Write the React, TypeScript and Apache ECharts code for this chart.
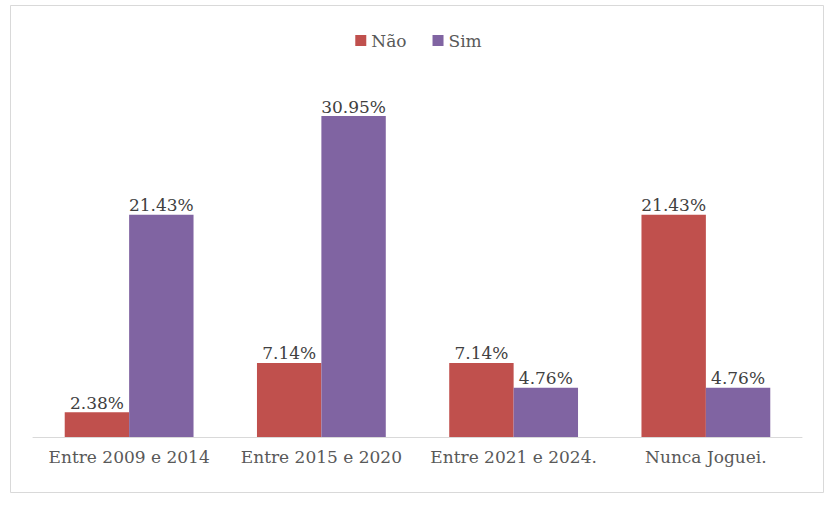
import React, { useEffect, useRef } from "react";
import * as echarts from "echarts";

const categories = ["Entre 2009 e 2014", "Entre 2015 e 2020", "Entre 2021 e 2024.", "Nunca Joguei."];
const naoValues = [2.38, 7.14, 7.14, 21.43];
const simValues = [21.43, 30.95, 4.76, 4.76];
const seriesNames = ["Não", "Sim"];

const FONT = "DejaVu Serif";

export default function App() {
  const ref = useRef<HTMLDivElement>(null);
  useEffect(() => {
    if (!ref.current) return;
    const chart = echarts.init(ref.current, null, { renderer: "svg" });
    const label = {
      show: true,
      position: "top",
      distance: 1,
      color: "#404040",
      fontFamily: FONT,
      fontSize: 17,
      formatter: (p: any) => p.value.toFixed(2) + "%",
    };
    chart.setOption({
      animation: false,
      backgroundColor: "#ffffff",
      textStyle: { fontFamily: FONT },
      graphic: [
        {
          type: "rect",
          shape: { x: 10.5, y: 5.5, width: 813, height: 487 },
          style: { fill: "none", stroke: "#d9d9d9", lineWidth: 1 },
          silent: true,
        },
      ],
      legend: {
        top: 27,
        left: "center",
        itemWidth: 11,
        itemHeight: 11,
        itemGap: 26,
        icon: "rect",
        textStyle: { fontFamily: FONT, fontSize: 17, color: "#595959" },
        data: seriesNames,
      },
      grid: { left: 33, right: 35, top: 437 - 35 * 10.37, bottom: 510 - 437, containLabel: false },
      xAxis: {
        type: "category",
        data: categories,
        axisLine: { lineStyle: { color: "#d9d9d9", width: 1 } },
        axisTick: { show: false },
        axisLabel: { color: "#595959", fontFamily: FONT, fontSize: 17, margin: 11, interval: 0 },
      },
      yAxis: {
        type: "value",
        min: 0,
        max: 35,
        show: false,
        splitLine: { show: false },
      },
      series: [
        {
          name: seriesNames[0],
          type: "bar",
          data: naoValues,
          barGap: "0%",
          barCategoryGap: "33%",
          itemStyle: { color: "#C0504D" },
          label,
        },
        {
          name: seriesNames[1],
          type: "bar",
          data: simValues,
          barGap: "0%",
          barCategoryGap: "33%",
          itemStyle: { color: "#8064A2" },
          label,
        },
      ],
    });
    return () => chart.dispose();
  }, []);
  return (
    <div
      ref={ref}
      style={{ position: "fixed", left: 0, top: 0, width: 837, height: 510 }}
    />
  );
}
